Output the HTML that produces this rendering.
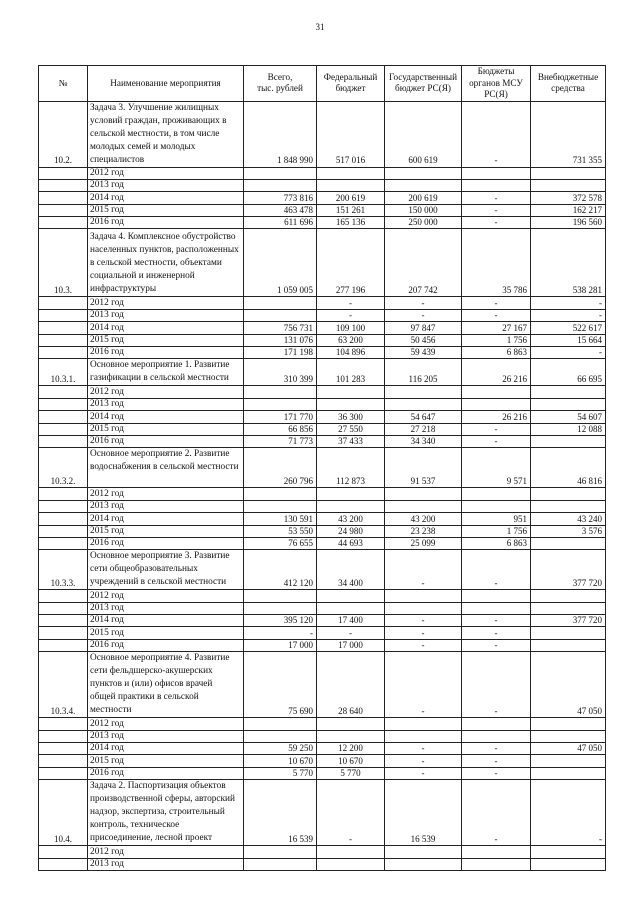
<!DOCTYPE html>
<html><head><meta charset="utf-8"><style>
body{margin:0;background:#fff;width:640px;height:905px;position:relative;overflow:hidden;font-family:"Liberation Serif",serif;color:#111}
.pn{position:absolute;left:0;width:640px;top:22px;text-align:center;font-size:9px}
table{position:absolute;left:38px;top:65px;border-collapse:collapse;table-layout:fixed;width:567px;font-size:9px;line-height:12.6px}
td{border:1px solid #222;padding:0 2px;vertical-align:bottom;overflow:hidden;white-space:nowrap}
td.n{text-align:right;padding-right:3px}
td.c{text-align:center}
td.t{white-space:normal;line-height:13px;font-size:9.3px;padding-left:2px;padding-right:0}
tr.h td{text-align:center;vertical-align:middle;line-height:11.5px;white-space:normal;font-size:9.2px}
tr.y td{height:11.4px;line-height:11px}
tr.y td:nth-child(2){font-size:9.4px}
</style></head><body>
<div class="pn">31</div>
<table>
<colgroup><col style="width:49px"><col style="width:156px"><col style="width:73px"><col style="width:68px"><col style="width:77px"><col style="width:69px"><col style="width:75px"></colgroup>
<tr class="h" style="height:34px"><td>№</td><td>Наименование мероприятия</td><td>Всего,<br>тыс. рублей</td><td>Федеральный<br>бюджет</td><td>Государственный<br>бюджет РС(Я)</td><td>Бюджеты<br>органов МСУ<br>РС(Я)</td><td>Внебюджетные<br>средства</td></tr>

<tr style="height:66px"><td class="c">10.2.</td><td class="t">Задача 3. Улучшение жилищных<br>условий граждан, проживающих в сельской местности, в том числе<br>молодых семей и молодых специалистов</td><td class="n">1 848 990</td><td class="c">517 016</td><td class="c">600 619</td><td class="c">-</td><td class="n">731 355</td></tr>
<tr class="y"><td></td><td>2012 год</td><td></td><td></td><td></td><td></td><td></td></tr>
<tr class="y"><td></td><td>2013 год</td><td></td><td></td><td></td><td></td><td></td></tr>
<tr class="y"><td></td><td>2014 год</td><td class="n">773 816</td><td class="c">200 619</td><td class="c">200 619</td><td class="c">-</td><td class="n">372 578</td></tr>
<tr class="y"><td></td><td>2015 год</td><td class="n">463 478</td><td class="c">151 261</td><td class="c">150 000</td><td class="c">-</td><td class="n">162 217</td></tr>
<tr class="y"><td></td><td>2016 год</td><td class="n">611 696</td><td class="c">165 136</td><td class="c">250 000</td><td class="c">-</td><td class="n">196 560</td></tr>

<tr style="height:68px"><td class="c">10.3.</td><td class="t">Задача 4. Комплексное обустройство населенных пунктов, расположенных в сельской местности, объектами<br>социальной и инженерной<br>инфраструктуры</td><td class="n">1 059 005</td><td class="c">277 196</td><td class="c">207 742</td><td class="n">35 786</td><td class="n">538 281</td></tr>
<tr class="y"><td></td><td>2012 год</td><td></td><td class="c">-</td><td class="c">-</td><td class="c">-</td><td class="n">-</td></tr>
<tr class="y"><td></td><td>2013 год</td><td></td><td class="c">-</td><td class="c">-</td><td class="c">-</td><td class="n">-</td></tr>
<tr class="y"><td></td><td>2014 год</td><td class="n">756 731</td><td class="c">109 100</td><td class="c">97 847</td><td class="n">27 167</td><td class="n">522 617</td></tr>
<tr class="y"><td></td><td>2015 год</td><td class="n">131 076</td><td class="c">63 200</td><td class="c">50 456</td><td class="n">1 756</td><td class="n">15 664</td></tr>
<tr class="y"><td></td><td>2016 год</td><td class="n">171 198</td><td class="c">104 896</td><td class="c">59 439</td><td class="n">6 863</td><td class="n">-</td></tr>

<tr style="height:27px"><td class="c">10.3.1.</td><td class="t">Основное мероприятие 1. Развитие газификации в сельской местности</td><td class="n">310 399</td><td class="c">101 283</td><td class="c">116 205</td><td class="n">26 216</td><td class="n">66 695</td></tr>
<tr class="y"><td></td><td>2012 год</td><td></td><td></td><td></td><td></td><td></td></tr>
<tr class="y"><td></td><td>2013 год</td><td></td><td></td><td></td><td></td><td></td></tr>
<tr class="y"><td></td><td>2014 год</td><td class="n">171 770</td><td class="c">36 300</td><td class="c">54 647</td><td class="n">26 216</td><td class="n">54 607</td></tr>
<tr class="y"><td></td><td>2015 год</td><td class="n">66 856</td><td class="c">27 550</td><td class="c">27 218</td><td class="c">-</td><td class="n">12 088</td></tr>
<tr class="y"><td></td><td>2016 год</td><td class="n">71 773</td><td class="c">37 433</td><td class="c">34 340</td><td class="c">-</td><td></td></tr>

<tr style="height:40px"><td class="c">10.3.2.</td><td class="t" style="vertical-align:top">Основное мероприятие 2. Развитие<br><span style="white-space:nowrap">водоснабжения в сельской местности</span></td><td class="n">260 796</td><td class="c">112 873</td><td class="c">91 537</td><td class="n">9 571</td><td class="n">46 816</td></tr>
<tr class="y"><td></td><td>2012 год</td><td></td><td></td><td></td><td></td><td></td></tr>
<tr class="y"><td></td><td>2013 год</td><td></td><td></td><td></td><td></td><td></td></tr>
<tr class="y"><td></td><td>2014 год</td><td class="n">130 591</td><td class="c">43 200</td><td class="c">43 200</td><td class="n">951</td><td class="n">43 240</td></tr>
<tr class="y"><td></td><td>2015 год</td><td class="n">53 550</td><td class="c">24 980</td><td class="c">23 238</td><td class="n">1 756</td><td class="n">3 576</td></tr>
<tr class="y"><td></td><td>2016 год</td><td class="n">76 655</td><td class="c">44 693</td><td class="c">25 099</td><td class="n">6 863</td><td></td></tr>

<tr style="height:39px"><td class="c">10.3.3.</td><td class="t">Основное мероприятие 3. Развитие<br>сети общеобразовательных<br>учреждений в сельской местности</td><td class="n">412 120</td><td class="c">34 400</td><td class="c">-</td><td class="c">-</td><td class="n">377 720</td></tr>
<tr class="y"><td></td><td>2012 год</td><td></td><td></td><td></td><td></td><td></td></tr>
<tr class="y"><td></td><td>2013 год</td><td></td><td></td><td></td><td></td><td></td></tr>
<tr class="y"><td></td><td>2014 год</td><td class="n">395 120</td><td class="c">17 400</td><td class="c">-</td><td class="c">-</td><td class="n">377 720</td></tr>
<tr class="y"><td></td><td>2015 год</td><td class="n">-</td><td class="c">-</td><td class="c">-</td><td class="c">-</td><td></td></tr>
<tr class="y"><td></td><td>2016 год</td><td class="n">17 000</td><td class="c">17 000</td><td class="c">-</td><td class="c">-</td><td></td></tr>

<tr style="height:65px"><td class="c">10.3.4.</td><td class="t">Основное мероприятие 4. Развитие<br>сети фельдшерско-акушерских<br>пунктов и (или) офисов врачей<br>общей практики в сельской<br>местности</td><td class="n">75 690</td><td class="c">28 640</td><td class="c">-</td><td class="c">-</td><td class="n">47 050</td></tr>
<tr class="y"><td></td><td>2012 год</td><td></td><td></td><td></td><td></td><td></td></tr>
<tr class="y"><td></td><td>2013 год</td><td></td><td></td><td></td><td></td><td></td></tr>
<tr class="y"><td></td><td>2014 год</td><td class="n">59 250</td><td class="c">12 200</td><td class="c">-</td><td class="c">-</td><td class="n">47 050</td></tr>
<tr class="y"><td></td><td>2015 год</td><td class="n">10 670</td><td class="c">10 670</td><td class="c">-</td><td class="c">-</td><td></td></tr>
<tr class="y"><td></td><td>2016 год</td><td class="n">5 770</td><td class="c">5 770</td><td class="c">-</td><td class="c">-</td><td></td></tr>

<tr style="height:66px"><td class="c">10.4.</td><td class="t">Задача 2. Паспортизация объектов<br>производственной сферы, авторский<br>надзор, экспертиза, строительный<br>контроль, техническое<br>присоединение, лесной проект</td><td class="n">16 539</td><td class="c">-</td><td class="c">16 539</td><td class="c">-</td><td class="n">-</td></tr>
<tr class="y"><td></td><td>2012 год</td><td></td><td></td><td></td><td></td><td></td></tr>
<tr class="y"><td></td><td>2013 год</td><td></td><td></td><td></td><td></td><td></td></tr>
</table>
</body></html>
